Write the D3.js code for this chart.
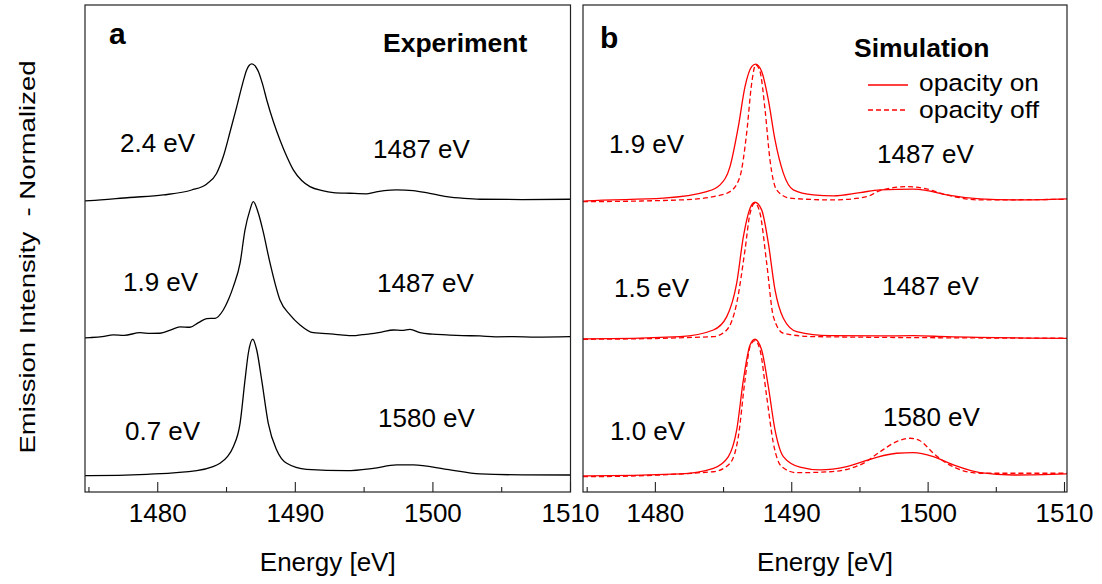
<!DOCTYPE html>
<html><head><meta charset="utf-8">
<script src="https://cdn.jsdelivr.net/npm/d3@7"></script>
<style>
body{margin:0;background:#fff;}
text{font-family:"Liberation Sans",Arial,Helvetica,sans-serif;fill:#000;}
</style>
</head><body>
<svg id="c" width="1102" height="584"></svg>
<script>
// ---- data: [energy eV, normalized intensity above stacking offset] ----
const expTop = [[1474.75,0.020],[1475.11,0.022],[1478,0.045],[1480.44,0.064],[1482.5,0.10],[1483.6,0.145],[1484.3,0.22],[1484.8,0.346],[1485.3,0.53],[1485.78,0.713],[1486.2,0.88],[1486.5,0.983],[1486.87,1.027],[1487.35,0.971],[1487.65,0.88],[1487.96,0.762],[1488.45,0.60],[1488.92,0.468],[1489.4,0.35],[1489.89,0.248],[1490.5,0.17],[1491.1,0.125],[1492.0,0.095],[1492.8,0.081],[1494.0,0.076],[1495.22,0.072],[1495.68,0.081],[1496.5,0.096],[1497.4,0.101],[1498.6,0.096],[1499.8,0.075],[1501.04,0.051],[1502.3,0.038],[1503.46,0.032],[1506.5,0.030],[1510,0.032]];
const expMid = [[1474.75,0.013],[1475.11,0.015],[1476.0,0.022],[1476.81,0.035],[1477.6,0.032],[1478.75,0.051],[1479.5,0.046],[1480.2,0.047],[1481.0,0.072],[1481.65,0.094],[1482.38,0.091],[1483.0,0.125],[1483.6,0.155],[1484.2,0.157],[1484.8,0.218],[1485.2,0.30],[1485.53,0.390],[1486.02,0.562],[1486.38,0.807],[1486.74,0.954],[1486.98,1.015],[1487.35,0.929],[1487.67,0.807],[1488.2,0.562],[1488.92,0.292],[1489.65,0.182],[1490.38,0.108],[1491.34,0.051],[1492.0,0.046],[1492.8,0.040],[1493.5,0.033],[1494.25,0.029],[1494.9,0.037],[1495.46,0.042],[1496.3,0.055],[1497.16,0.071],[1497.8,0.068],[1498.37,0.076],[1499.1,0.051],[1500.0,0.040],[1501.04,0.035],[1502.2,0.030],[1503.46,0.027],[1504.6,0.021],[1505.88,0.022],[1507.5,0.019],[1510,0.022]];
const expBot = [[1474.75,0.0],[1475.11,0.0],[1479.23,0.010],[1482.87,0.037],[1484.0,0.065],[1484.56,0.091],[1485.1,0.14],[1485.53,0.213],[1486.02,0.385],[1486.38,0.704],[1486.62,0.900],[1486.94,1.003],[1487.23,0.924],[1487.59,0.704],[1488.07,0.385],[1488.68,0.189],[1489.41,0.091],[1490.86,0.047],[1493.77,0.037],[1495.7,0.054],[1497.4,0.079],[1498.61,0.079],[1501.04,0.047],[1503.46,0.013],[1506.5,0.006],[1510,0.005]];

const simTopOn = [[1474.73,0.018],[1475.0,0.020],[1480.62,0.040],[1483.8,0.088],[1484.78,0.138],[1485.51,0.272],[1486.12,0.566],[1486.61,0.860],[1487.1,1.007],[1487.39,1.025],[1487.83,0.971],[1488.32,0.763],[1488.81,0.468],[1489.42,0.224],[1490.15,0.101],[1491.62,0.064],[1493.09,0.057],[1495.04,0.081],[1496.51,0.101],[1498.95,0.106],[1499.94,0.096],[1501.4,0.064],[1503.84,0.035],[1506.29,0.027],[1510.22,0.035]];
const simTopOff = [[1474.73,0.015],[1475.0,0.015],[1481.84,0.027],[1484.29,0.051],[1485.51,0.088],[1486.24,0.199],[1486.73,0.518],[1487.1,0.885],[1487.39,1.020],[1487.71,0.971],[1488.08,0.689],[1488.44,0.321],[1488.93,0.101],[1489.91,0.040],[1493.09,0.027],[1495.54,0.051],[1496.51,0.096],[1498.47,0.125],[1499.69,0.113],[1501.4,0.064],[1503.84,0.027],[1510.22,0.032]];
const simMidOn = [[1474.73,0.005],[1475.0,0.005],[1481.84,0.022],[1484.29,0.071],[1485.27,0.169],[1486.0,0.415],[1486.49,0.757],[1486.98,0.966],[1487.34,1.010],[1487.83,0.954],[1488.32,0.709],[1488.81,0.365],[1489.42,0.157],[1490.4,0.059],[1492.84,0.029],[1496.51,0.027],[1498.95,0.029],[1501.4,0.022],[1510.22,0.010]];
const simMidOff = [[1474.73,0.003],[1475.0,0.003],[1484.29,0.022],[1485.27,0.071],[1486.0,0.268],[1486.61,0.660],[1486.98,0.929],[1487.34,1.003],[1487.71,0.929],[1488.2,0.562],[1488.69,0.169],[1489.42,0.047],[1491.62,0.022],[1510.22,0.010]];
const simBotOn = [[1474.73,-0.002],[1475.0,-0.002],[1481.84,0.013],[1484.29,0.054],[1485.39,0.140],[1486.0,0.336],[1486.49,0.704],[1486.98,0.961],[1487.34,1.003],[1487.83,0.924],[1488.32,0.654],[1488.81,0.336],[1489.42,0.140],[1490.64,0.062],[1492.11,0.042],[1494.07,0.066],[1496.02,0.128],[1497.73,0.165],[1498.95,0.169],[1500.42,0.140],[1501.89,0.079],[1503.84,0.022],[1506.29,0.005],[1510.22,0.013]];
const simBotOff = [[1474.73,-0.007],[1475.0,-0.007],[1484.29,0.029],[1485.51,0.091],[1486.12,0.287],[1486.61,0.704],[1486.98,0.949],[1487.34,0.993],[1487.71,0.924],[1488.2,0.581],[1488.69,0.238],[1489.3,0.066],[1490.4,0.022],[1492.84,0.029],[1495.29,0.091],[1496.51,0.176],[1497.73,0.250],[1498.71,0.275],[1499.44,0.257],[1500.42,0.165],[1501.4,0.091],[1503.84,0.018],[1510.22,0.018]];

const offsets = [0, 1, 2];            // bottom, middle, top stacking
const xTicksMajor = [1480, 1490, 1500, 1510];
const xTicksMinor = [1475, 1485, 1495, 1505];
const expWidths = ["0.7 eV", "1.9 eV", "2.4 eV"];
const expBeams  = ["1580 eV", "1487 eV", "1487 eV"];
const simWidths = ["1.0 eV", "1.5 eV", "1.9 eV"];
const simBeams  = ["1580 eV", "1487 eV", "1487 eV"];
const legendLabels = ["opacity on", "opacity off"];

// ---- drawing ----
const svg = d3.select("#c");
const FS = 26;
const y = d3.scaleLinear().domain([-0.12, 3.46]).range([492, 5]);

const panels = [
  {x0:85, x1:570.5, dom:[1474.75,1510], rng:[85,570], id:"L",
   curves:[{d:expBot,o:offsets[0],c:"#000",dash:null},{d:expMid,o:offsets[1],c:"#000",dash:null},{d:expTop,o:offsets[2],c:"#000",dash:null}]},
  {x0:583, x1:1067, dom:[1474.73,1510.22], rng:[583,1067], id:"R",
   curves:[{d:simBotOff,o:offsets[0],c:"#ff0000",dash:"5,3"},{d:simMidOff,o:offsets[1],c:"#ff0000",dash:"5,3"},{d:simTopOff,o:offsets[2],c:"#ff0000",dash:"5,3"},
           {d:simBotOn,o:offsets[0],c:"#ff0000",dash:null},{d:simMidOn,o:offsets[1],c:"#ff0000",dash:null},{d:simTopOn,o:offsets[2],c:"#ff0000",dash:null}]}
];

panels.forEach(p => {
  const x = d3.scaleLinear().domain(p.dom).range(p.rng);
  svg.append("clipPath").attr("id","clip"+p.id).append("rect")
    .attr("x",p.x0).attr("y",5).attr("width",p.x1-p.x0).attr("height",487);
  const g = svg.append("g").attr("clip-path","url(#clip"+p.id+")");
  p.curves.forEach(cv => {
    const line = d3.line().x(d=>x(d[0])).y(d=>y(d[1]+cv.o)).curve(d3.curveMonotoneX);
    g.append("path").attr("d", line(cv.d)).attr("fill","none")
      .attr("stroke",cv.c).attr("stroke-width",1.3)
      .attr("stroke-dasharray",cv.dash);
  });
  svg.append("rect").attr("x",p.x0).attr("y",5).attr("width",p.x1-p.x0).attr("height",487)
    .attr("fill","none").attr("stroke","#222").attr("stroke-width",1.2);
  const axM = d3.axisBottom(x).tickValues(xTicksMajor).tickSize(-10).tickPadding(22).tickFormat(d3.format("d"));
  const ga = svg.append("g").attr("transform","translate(0,492)").call(axM);
  ga.select(".domain").remove();
  ga.selectAll("line").attr("stroke","#222").attr("stroke-width",1.1);
  ga.selectAll("text").attr("font-size",FS).attr("font-family","Liberation Sans, Arial, sans-serif").attr("fill","#000").attr("dy","0.3em");
  const axm = d3.axisBottom(x).tickValues(xTicksMinor).tickSize(-5).tickFormat("");
  const gm = svg.append("g").attr("transform","translate(0,492)").call(axm);
  gm.select(".domain").remove();
  gm.selectAll("line").attr("stroke","#222").attr("stroke-width",1.1);
  svg.append("text").attr("x",(p.x0+p.x1)/2).attr("y",571).attr("text-anchor","middle")
    .attr("font-size",FS).text("Energy [eV]");
});

// Left panel annotations
svg.append("text").attr("x",109).attr("y",44).attr("font-size",30).attr("font-weight","bold").text("a");
svg.append("text").attr("x",383).attr("y",52).attr("font-size",26.5).attr("font-weight","bold").text("Experiment");
const expWPos = [[125,440],[123,291],[120,152]];
const expBPos = [[378,427],[377,292],[373,158]];
expWidths.forEach((t,i)=>svg.append("text").attr("x",expWPos[i][0]).attr("y",expWPos[i][1]).attr("font-size",FS).text(t));
expBeams.forEach((t,i)=>svg.append("text").attr("x",expBPos[i][0]).attr("y",expBPos[i][1]).attr("font-size",FS).text(t));

// Right panel annotations
svg.append("text").attr("x",600).attr("y",47.5).attr("font-size",30).attr("font-weight","bold").text("b");
svg.append("text").attr("x",854).attr("y",57).attr("font-size",26.5).attr("font-weight","bold").text("Simulation");
const simWPos = [[610,440],[614,297],[609,153]];
const simBPos = [[883,426],[882,295],[877,163]];
simWidths.forEach((t,i)=>svg.append("text").attr("x",simWPos[i][0]).attr("y",simWPos[i][1]).attr("font-size",FS).text(t));
simBeams.forEach((t,i)=>svg.append("text").attr("x",simBPos[i][0]).attr("y",simBPos[i][1]).attr("font-size",FS).text(t));

// legend
[[85,null,91],[110,"5,3",117.5]].forEach((s,i)=>{
  svg.append("line").attr("x1",868).attr("x2",908).attr("y1",s[0]).attr("y2",s[0])
    .attr("stroke","#ff0000").attr("stroke-width",1.3).attr("stroke-dasharray",s[1]);
  svg.append("text").attr("x",919).attr("y",s[2]).attr("font-size",24.5).attr("textLength",120).attr("lengthAdjust","spacingAndGlyphs").text(legendLabels[i]);
});

// y title
svg.append("text").attr("transform","translate(34.5,257) rotate(-90)").attr("text-anchor","middle")
  .attr("font-size",22).attr("xml:space","preserve").style("white-space","pre")
  .attr("textLength",393).attr("lengthAdjust","spacingAndGlyphs")
  .text("Emission Intensity  - Normalized");
</script>
</body></html>
